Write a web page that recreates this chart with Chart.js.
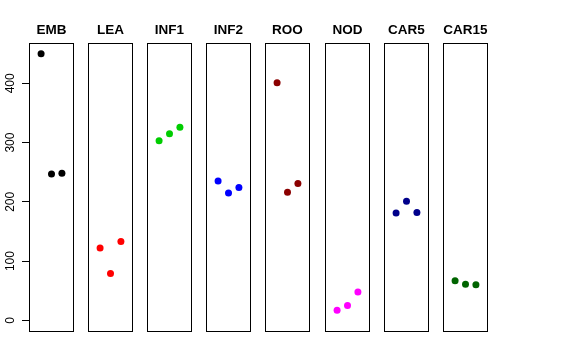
<!DOCTYPE html>
<html>
<head>
<meta charset="utf-8">
<script src="https://cdn.jsdelivr.net/npm/chart.js@4"></script>
<style>
  body { margin: 0; background: #fff; }
  #wrap { position: relative; width: 576px; height: 360px; background: #fff; }
  #wrap canvas { position: absolute; top: 0; }
</style>
</head>
<body>
<div id="wrap"></div>
<script>
// panel names and the three values in each
const panels = ['EMB', 'LEA', 'INF1', 'INF2', 'ROO', 'NOD', 'CAR5', 'CAR15'];
const xPos = [1, 2, 3];
const emb = [450, 247, 248];
const lea = [122, 79, 133];
const inf1 = [303, 315, 326];
const inf2 = [235, 215, 224];
const roo = [401, 216, 231];
const nod = [17, 25, 48];
const car5 = [181, 201, 182];
const car15 = [67, 61, 60];
const yTicks = [0, 100, 200, 300, 400];
const colores = ['#000000', '#FF0000', '#00CD00', '#0000FF', '#8B0000', '#FF00FF', '#00008B', '#006400'];

const valores = [emb, lea, inf1, inf2, roo, nod, car5, car15];

// box drawn round each plot area
const caixa = {
    id: 'caixa',
    afterDraw(chart) {
        const a = chart.chartArea;
        const ctx = chart.ctx;
        ctx.save();
        ctx.strokeStyle = '#000';
        ctx.lineWidth = 1;
        ctx.strokeRect(Math.round(a.left) + 0.5, Math.round(a.top) + 0.5,
            Math.round(a.right - a.left) - 1, Math.round(a.bottom - a.top));
        ctx.restore();
    }
};

const wrap = document.getElementById('wrap');

for (let i = 0; i < panels.length; i++) {
    const primeiro = (i == 0);
    const esq = Math.round(29 + i * 59.1);
    const canvas = document.createElement('canvas');
    const largura = primeiro ? esq + 46 : 47;
    canvas.width = largura;
    canvas.height = 360;
    canvas.style.left = (primeiro ? 0 : esq - 1) + 'px';
    canvas.style.width = largura + 'px';
    canvas.style.height = '360px';
    wrap.appendChild(canvas);

    const pontos = xPos.map((x, j) => ({ x: x, y: valores[i][j] }));

    const eixoY = {
        type: 'linear',
        min: -18,
        max: 468,
        display: primeiro
    };
    if (primeiro) {
        eixoY.afterBuildTicks = (s) => { s.ticks = yTicks.map(v => ({ value: v })); };
        eixoY.afterFit = (s) => { s.width = 29; };
        eixoY.border = { display: true, color: '#000', width: 1 };
        eixoY.grid = { drawOnChartArea: false, drawTicks: true, tickLength: 7, color: '#000', lineWidth: 1 };
        eixoY.ticks = {
            color: '#000',
            minRotation: 90,
            maxRotation: 90,
            crossAlign: 'center',
            padding: 1,
            font: { family: 'Liberation Sans, Arial, sans-serif', size: 12 }
        };
    }

    new Chart(canvas, {
        type: 'scatter',
        data: {
            datasets: [{
                data: pontos,
                backgroundColor: colores[i],
                borderWidth: 0,
                pointRadius: 3.5,
                pointHoverRadius: 3.5
            }]
        },
        options: {
            responsive: false,
            animation: false,
            events: [],
            layout: { autoPadding: false, padding: { left: primeiro ? 0 : 1, right: 1, top: 0, bottom: 29 } },
            plugins: {
                legend: { display: false },
                tooltip: { enabled: false },
                title: {
                    display: true,
                    text: panels[i],
                    fullSize: false,
                    color: '#000',
                    font: { family: 'Liberation Sans, Arial, sans-serif', size: 13.5, weight: 'bold', lineHeight: 1.2 },
                    padding: { top: 21.7, bottom: 5.1 }
                }
            },
            scales: {
                x: {
                    type: 'linear',
                    min: -0.16,
                    max: 4.16,
                    display: false
                },
                y: eixoY
            }
        },
        plugins: [caixa]
    });
}
</script>
</body>
</html>
